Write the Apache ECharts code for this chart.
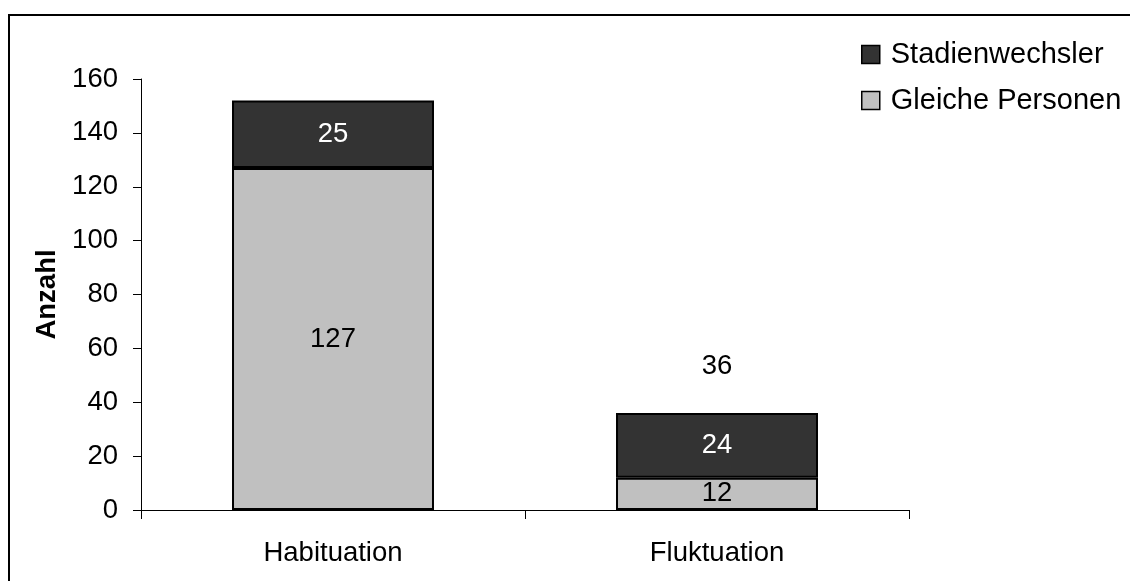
<!DOCTYPE html>
<html>
<head>
<meta charset="utf-8">
<script src="https://cdn.jsdelivr.net/npm/echarts@6/dist/echarts.min.js"></script>
<style>
  html, body { margin: 0; padding: 0; background: #fff; }
  #chart { width: 1130px; height: 581px; }
</style>
</head>
<body>
<div id="chart"></div>
<script>
// Categories and stacked counts
const categories = ['Habituation', 'Fluktuation'];
const gleichePersonen = [127, 12];
const stadienwechsler = [25, 24];
// Total shown above the bar (only for Fluktuation)
const totals = ['-', 36];
const yTicks = { min: 0, max: 160, interval: 20 };

const FONT = '"Liberation Sans", Arial, sans-serif';
const FS = 27.5;

const chart = echarts.init(document.getElementById('chart'), null, { renderer: 'canvas' });

chart.setOption({
  animation: false,
  backgroundColor: '#ffffff',
  textStyle: { fontFamily: FONT },
  graphic: [{
    type: 'rect',
    shape: { x: 9, y: 15, width: 1300, height: 1000 },
    style: { fill: 'none', stroke: '#000', lineWidth: 2 },
    silent: true
  }],
  grid: { left: 141, right: 221, top: 79, bottom: 71, containLabel: false },
  legend: {
    data: ['Stadienwechsler', 'Gleiche Personen'],
    orient: 'vertical',
    left: 856,
    top: 35,
    icon: 'rect',
    itemWidth: 18,
    itemHeight: 18,
    itemGap: 17,
    itemStyle: { borderColor: '#000', borderWidth: 1.5 },
    textStyle: {
      fontFamily: FONT, fontSize: 29, color: '#000',
      lineHeight: 28, padding: [0, 0, 0, 6]
    }
  },
  xAxis: {
    type: 'category',
    data: categories,
    axisLine: { lineStyle: { color: '#000', width: 1 } },
    axisTick: { show: true, length: 9, lineStyle: { color: '#000' } },
    axisLabel: { fontFamily: FONT, fontSize: FS, color: '#000', margin: 29 },
    splitLine: { show: false }
  },
  yAxis: {
    type: 'value',
    min: yTicks.min,
    max: yTicks.max,
    interval: yTicks.interval,
    name: 'Anzahl',
    nameLocation: 'middle',
    nameGap: 79,
    nameTextStyle: { fontFamily: FONT, fontSize: FS, fontWeight: 'bold', color: '#000' },
    axisLine: { show: true, lineStyle: { color: '#000', width: 1 } },
    axisTick: { show: true, length: 8, lineStyle: { color: '#000' } },
    axisLabel: { fontFamily: FONT, fontSize: FS, color: '#000', margin: 23 },
    splitLine: { show: false }
  },
  series: [
    {
      name: 'Gleiche Personen',
      type: 'bar',
      stack: 'gesamt',
      barWidth: '52.6%',
      data: gleichePersonen,
      itemStyle: { color: '#c0c0c0', borderColor: '#000', borderWidth: 2 },
      label: { show: true, position: 'inside', fontFamily: FONT, fontSize: FS, color: '#000' }
    },
    {
      name: 'Stadienwechsler',
      type: 'bar',
      stack: 'gesamt',
      barWidth: '52.6%',
      data: stadienwechsler,
      itemStyle: { color: '#333333', borderColor: '#000', borderWidth: 2 },
      label: { show: true, position: 'inside', fontFamily: FONT, fontSize: FS, color: '#fff' }
    },
    {
      name: 'Gesamt',
      type: 'scatter',
      data: totals,
      symbolSize: 0,
      silent: true,
      itemStyle: { opacity: 1 },
      label: {
        show: true, position: 'top', distance: 33,
        fontFamily: FONT, fontSize: FS, color: '#000', opacity: 1
      }
    }
  ]
});
</script>
</body>
</html>
